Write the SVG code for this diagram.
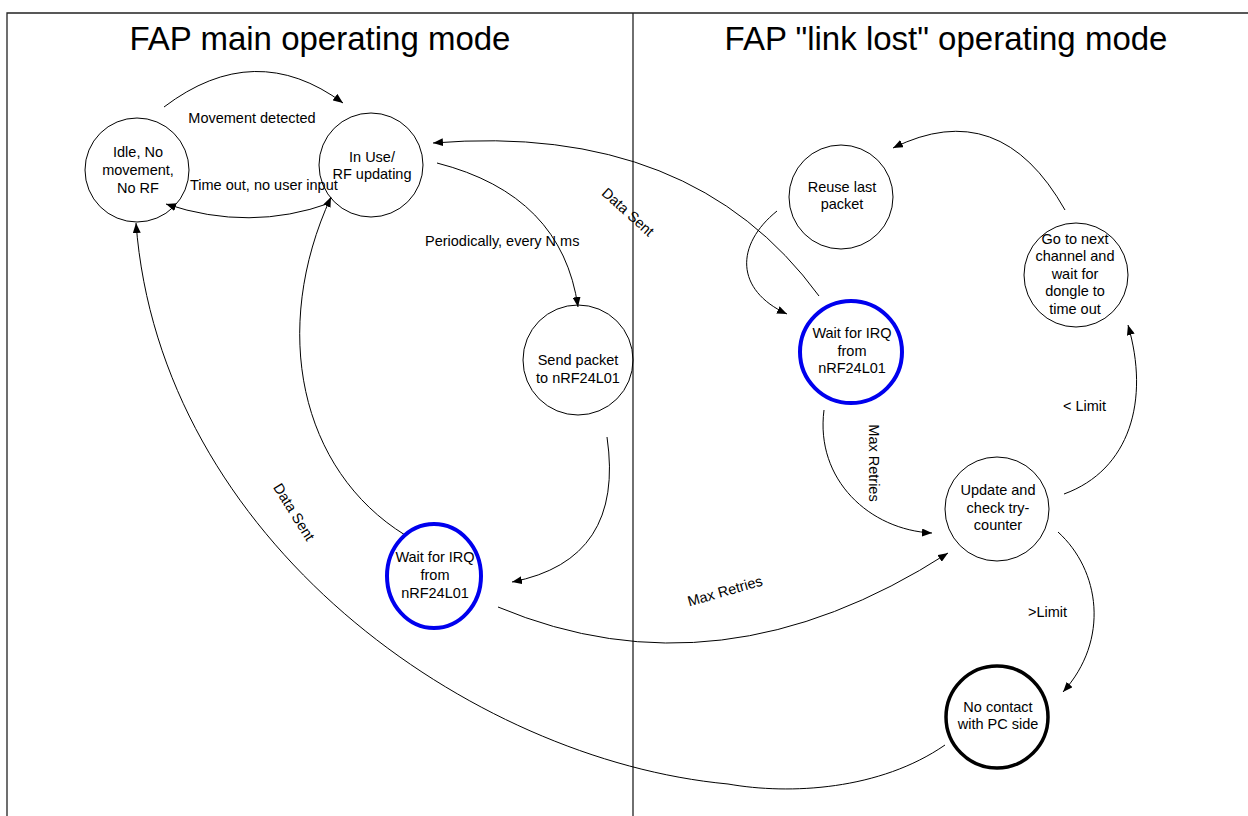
<svg xmlns="http://www.w3.org/2000/svg" width="1248" height="816" viewBox="0 0 1248 816">
  <style>
    .frame { fill: none; stroke: #222; stroke-width: 1.3; }
    .title { font-family: "Liberation Sans", Arial, sans-serif; font-size: 33px; fill: #000; text-anchor: middle; }
    .node { fill: none; stroke: #000; stroke-width: 1; }
    .wait { fill: none; stroke: #0000ee; stroke-width: 4; }
    .fail { fill: none; stroke: #000; stroke-width: 3.5; }
    .lbl { font-family: "Liberation Sans", Arial, sans-serif; font-size: 14.5px; fill: #000; text-anchor: middle; }
    .edge-lbl { font-family: "Liberation Sans", Arial, sans-serif; font-size: 14.5px; fill: #000; }
    .edge { fill: none; stroke: #000; stroke-width: 1; marker-end: url(#arrow); }
  </style>
  <defs>
    <marker id="arrow" markerUnits="userSpaceOnUse" markerWidth="10" markerHeight="8" refX="10" refY="4" orient="auto">
      <path d="M0,0 L10,4 L0,8 z" fill="#000"/>
    </marker>
  </defs>

  <rect width="1248" height="816" fill="#fff"/>

  <!-- page frame and mode divider -->
  <g id="frame">
    <path class="frame" d="M7,816 V13 H1248"/>
    <line class="frame" x1="633" y1="13" x2="633" y2="816"/>
    <text class="title" x="320" y="50">FAP main operating mode</text>
    <text class="title" x="946" y="50">FAP "link lost" operating mode</text>
  </g>

  <!-- transitions -->
  <g id="connectors">
    <path class="edge" d="M164,107 Q255,38 343,103"/>
    <path class="edge" d="M330,203 Q250,232 166,204"/>
    <path class="edge" d="M437,163 Q562,195 578,307"/>
    <path class="edge" d="M607,437 Q625,560 512,582"/>
    <path class="edge" d="M405,535 C300,470 270,330 331,197"/>
    <path class="edge" d="M498,607 Q720,700 948,553"/>
    <path class="edge" d="M819,296 Q692,122 433,143"/>
    <path class="edge" d="M777,211 C735,245 735,290 787,314"/>
    <path class="edge" d="M1065,210 Q1000,95 893,148"/>
    <path class="edge" d="M1064,494 C1130,470 1150,400 1128,325"/>
    <path class="edge" d="M1058,532 C1100,570 1110,640 1063,692"/>
    <path class="edge" d="M824,410 C815,480 870,530 932,533"/>
    <path class="edge" d="M945,745 C880,790 790,795 728,784 C470,760 160,540 136,223"/>

    <text class="edge-lbl" x="252" y="123" text-anchor="middle">Movement detected</text>
    <text class="edge-lbl" x="190" y="190">Time out, no user input</text>
    <text class="edge-lbl" x="425" y="246">Periodically, every N ms</text>
    <text class="edge-lbl" text-anchor="middle" transform="translate(628,212) rotate(42)" y="5">Data Sent</text>
    <text class="edge-lbl" text-anchor="middle" transform="translate(294,512) rotate(58)" y="5">Data Sent</text>
    <text class="edge-lbl" text-anchor="middle" transform="translate(874,463) rotate(90)" y="5">Max Retries</text>
    <text class="edge-lbl" text-anchor="middle" transform="translate(725,591) rotate(-16)" y="5">Max Retries</text>
    <text class="edge-lbl" x="1063" y="411">&lt; Limit</text>
    <text class="edge-lbl" x="1028" y="617">&gt;Limit</text>
  </g>

  <!-- main mode states -->
  <g id="idle">
    <circle class="node" cx="137" cy="170" r="52"/>
    <text class="lbl" x="138" y="157">Idle, No</text>
    <text class="lbl" x="138" y="175">movement,</text>
    <text class="lbl" x="138" y="193">No RF</text>
  </g>
  <g id="in-use">
    <circle class="node" cx="371" cy="165" r="52"/>
    <text class="lbl" x="372" y="162">In Use/</text>
    <text class="lbl" x="372" y="179">RF updating</text>
  </g>
  <g id="send-packet">
    <circle class="node" cx="578" cy="360" r="55"/>
    <text class="lbl" x="578" y="365">Send packet</text>
    <text class="lbl" x="578" y="383">to nRF24L01</text>
  </g>
  <g id="wait-irq-main">
    <ellipse class="wait" cx="434" cy="576" rx="47" ry="52"/>
    <text class="lbl" x="435" y="562">Wait for IRQ</text>
    <text class="lbl" x="435" y="580">from</text>
    <text class="lbl" x="435" y="598">nRF24L01</text>
  </g>

  <!-- link lost mode states -->
  <g id="reuse-packet">
    <circle class="node" cx="841" cy="197" r="52"/>
    <text class="lbl" x="842" y="192">Reuse last</text>
    <text class="lbl" x="842" y="209">packet</text>
  </g>
  <g id="next-channel">
    <circle class="node" cx="1076" cy="275" r="52"/>
    <text class="lbl" x="1075" y="244">Go to next</text>
    <text class="lbl" x="1075" y="261">channel and</text>
    <text class="lbl" x="1075" y="279">wait for</text>
    <text class="lbl" x="1075" y="296">dongle to</text>
    <text class="lbl" x="1075" y="314">time out</text>
  </g>
  <g id="wait-irq-lost">
    <circle class="wait" cx="851" cy="352" r="51"/>
    <text class="lbl" x="852" y="338">Wait for IRQ</text>
    <text class="lbl" x="852" y="356">from</text>
    <text class="lbl" x="852" y="373">nRF24L01</text>
  </g>
  <g id="try-counter">
    <circle class="node" cx="997" cy="509" r="52"/>
    <text class="lbl" x="998" y="495">Update and</text>
    <text class="lbl" x="998" y="513">check try-</text>
    <text class="lbl" x="998" y="530">counter</text>
  </g>
  <g id="no-contact">
    <circle class="fail" cx="997" cy="717" r="51"/>
    <text class="lbl" x="998" y="712">No contact</text>
    <text class="lbl" x="998" y="729">with PC side</text>
  </g>
</svg>
